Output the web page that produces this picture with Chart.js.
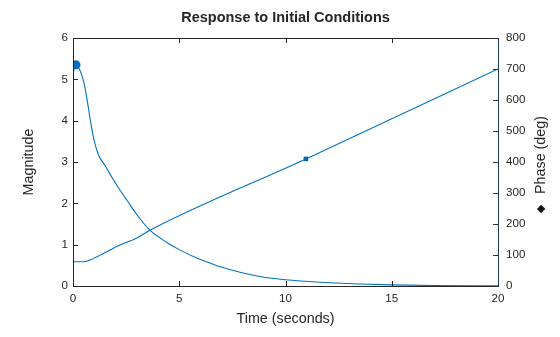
<!DOCTYPE html>
<html><head><meta charset="utf-8">
<script src="https://cdn.jsdelivr.net/npm/chart.js@4.4.0/dist/chart.umd.min.js"></script>
<style>html,body{margin:0;padding:0;background:#fff}#wrap{width:560px;height:337px}</style>
</head><body><div id="wrap"><canvas id="c" width="560" height="337"></canvas></div>
<script>
// ---- data ----
const magTime = [0, 0.14, 0.3, 0.5, 0.65, 0.8, 0.96, 1.2, 1.5, 1.9, 2.2, 2.53, 3.0, 3.62, 4.4, 5.0, 5.9, 6.45, 6.9, 7.9, 8.8, 10, 11.6, 13.5, 15, 17, 20];
const magnitude = [5.15, 5.35, 5.25, 4.95, 4.55, 4.06, 3.6, 3.17, 2.92, 2.57, 2.33, 2.08, 1.73, 1.35, 1.06, 0.88, 0.66, 0.555, 0.47, 0.325, 0.23, 0.15, 0.09, 0.05, 0.027, 0.011, 0.004];
const phaseTime = [0, 0.5, 0.8, 1.43, 1.9, 2.21, 3.0, 3.62, 10.96, 20];
const phaseDeg = [78, 78, 84, 105, 122, 132, 155, 180, 410, 700];
const magMarkerTime = [0.14];
const magMarkerValue = [5.35];
const phaseMarkerTime = [10.96];
const phaseMarkerValue = [410];
const xTicks = [0, 5, 10, 15, 20];
const magTicks = [0, 1, 2, 3, 4, 5, 6];
const phaseTicks = [0, 100, 200, 300, 400, 500, 600, 700, 800];
const titleText = 'Response to Initial Conditions';
const xLabel = 'Time (seconds)';
const yLabel = 'Magnitude';
const y2Label = 'Phase (deg)';

const BLUE = '#0072BD';
const TXT = '#262626';
const FONT = '"Liberation Sans", Arial, Helvetica, sans-serif';

const pts = (xs, ys) => xs.map((x, i) => ({x, y: ys[i]}));

const framePlugin = {
  id: 'frame',
  afterDraw(chart) {
    const {ctx, chartArea: a, scales} = chart;
    ctx.save();
    ctx.lineWidth = 1;
    ctx.strokeStyle = TXT;
    ctx.beginPath();
    ctx.moveTo(a.right, a.top + 0.5); ctx.lineTo(a.left + 0.5, a.top + 0.5);
    ctx.lineTo(a.left + 0.5, a.bottom + 0.5); ctx.lineTo(a.right, a.bottom + 0.5);
    ctx.stroke();
    ctx.beginPath();
    xTicks.forEach(v => {
      const px = Math.round(scales.x.getPixelForValue(v)) + 0.5;
      ctx.moveTo(px, a.bottom); ctx.lineTo(px, a.bottom - 5);
      ctx.moveTo(px, a.top); ctx.lineTo(px, a.top + 5);
    });
    magTicks.forEach(v => {
      const py = Math.round(scales.y.getPixelForValue(v)) + 0.5;
      ctx.moveTo(a.left, py); ctx.lineTo(a.left + 5, py);
    });
    ctx.stroke();
    ctx.strokeStyle = '#1d3a5a';
    ctx.beginPath();
    ctx.moveTo(a.right + 0.5, a.top); ctx.lineTo(a.right + 0.5, a.bottom + 1);
    phaseTicks.forEach(v => {
      const py = Math.round(scales.y2.getPixelForValue(v)) + 0.5;
      ctx.moveTo(a.right, py); ctx.lineTo(a.right - 5, py);
    });
    ctx.stroke();
    ctx.fillStyle = TXT;
    ctx.textAlign = 'center';
    ctx.textBaseline = 'middle';
    ctx.font = 'bold 14.5px ' + FONT;
    ctx.fillText(titleText, (a.left + a.right) / 2, 18);
    ctx.font = '14.3px ' + FONT;
    ctx.save();
    ctx.translate(541, 155);
    ctx.rotate(-Math.PI / 2);
    ctx.fillText(y2Label, 0, 0);
    ctx.restore();
    ctx.save();
    ctx.translate(541, 209);
    ctx.rotate(-Math.PI / 2);
    ctx.font = '11px "DejaVu Sans", sans-serif';
    ctx.fillStyle = '#111';
    ctx.fillText('\u25C6', 0, 0);
    ctx.restore();
    ctx.restore();
  }
};

new Chart(document.getElementById('c'), {
  type: 'scatter',
  data: {
    datasets: [
      {data: pts(magTime, magnitude), yAxisID: 'y', showLine: true, borderColor: BLUE, borderWidth: 1.1,
       pointRadius: 0, cubicInterpolationMode: 'monotone', fill: false},
      {data: pts(phaseTime, phaseDeg), yAxisID: 'y2', showLine: true, borderColor: BLUE, borderWidth: 1.1,
       pointRadius: 0, cubicInterpolationMode: 'monotone', fill: false},
      {data: pts(magMarkerTime, magMarkerValue), yAxisID: 'y', showLine: false, pointStyle: 'circle',
       pointRadius: 4.5, backgroundColor: '#0a6cc0', borderColor: '#0a6cc0', borderWidth: 0},
      {data: pts(phaseMarkerTime, phaseMarkerValue), yAxisID: 'y2', showLine: false, pointStyle: 'rect',
       pointRadius: 3.2, backgroundColor: '#0a62b0', borderColor: '#0a62b0', borderWidth: 0}
    ]
  },
  options: {
    responsive: false,
    animation: false,
    devicePixelRatio: 1,
    layout: {padding: {top: 38, left: 0, right: 0, bottom: 0}},
    plugins: {legend: {display: false}, tooltip: {enabled: false}, title: {display: false}},
    scales: {
      x: {
        type: 'linear', position: 'bottom', min: 0, max: 20,
        afterFit(s) { s.height = 51; },
        afterBuildTicks(s) { s.ticks = xTicks.map(v => ({value: v})); },
        grid: {display: false, drawTicks: false}, border: {display: false},
        ticks: {color: TXT, font: {family: FONT, size: 11.6}, padding: 6, maxRotation: 0},
        title: {display: true, text: xLabel, color: TXT, font: {family: FONT, size: 14.3}, padding: {top: 0, bottom: 9}}
      },
      y: {
        type: 'linear', position: 'left', min: 0, max: 6,
        afterFit(s) { s.width = 73; },
        afterBuildTicks(s) { s.ticks = magTicks.map(v => ({value: v})); },
        grid: {display: false, drawTicks: false}, border: {display: false},
        ticks: {color: TXT, font: {family: FONT, size: 11.6}, padding: 5},
        title: {display: true, text: yLabel, color: TXT, font: {family: FONT, size: 14.3}, padding: {top: 20, bottom: 0}}
      },
      y2: {
        type: 'linear', position: 'right', min: 0, max: 800,
        afterFit(s) { s.width = 62; },
        afterBuildTicks(s) { s.ticks = phaseTicks.map(v => ({value: v})); },
        grid: {display: false, drawTicks: false}, border: {display: false},
        ticks: {color: TXT, font: {family: FONT, size: 11.6}, padding: 8},
        title: {display: false}
      }
    }
  },
  plugins: [framePlugin]
});
</script></body></html>
